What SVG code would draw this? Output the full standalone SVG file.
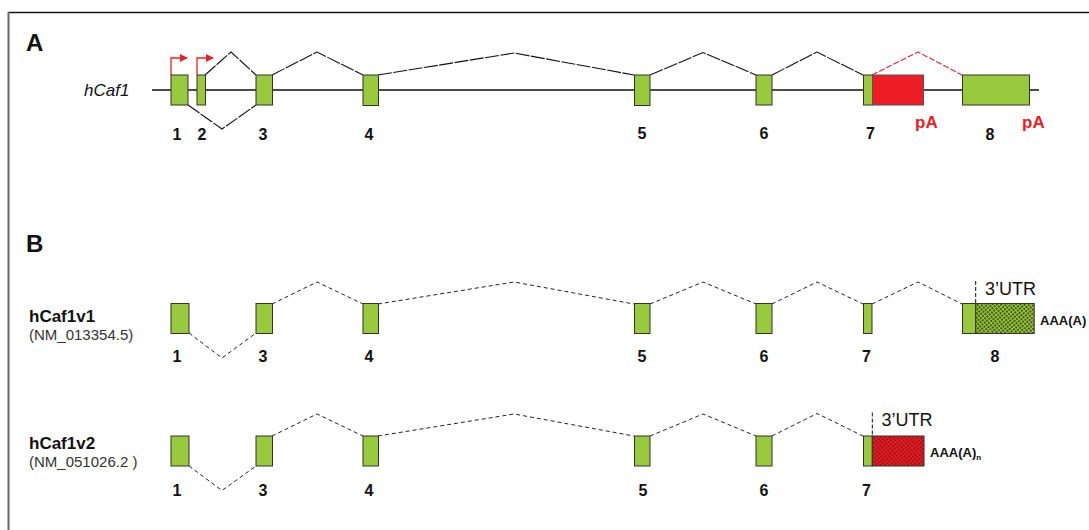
<svg xmlns="http://www.w3.org/2000/svg" width="1089" height="530" viewBox="0 0 1089 530">
<defs>
<style>
.ex{fill:#99c93c;stroke:#333;stroke-width:1}
.red{fill:#ee1c24;stroke:#555;stroke-width:1}
.num{font-family:"Liberation Sans",Arial,sans-serif;font-size:16px;font-weight:bold;fill:#111;text-anchor:middle}
.pa{font-family:"Liberation Sans",Arial,sans-serif;font-size:17px;font-weight:bold;fill:#ee1c24}
.lbl{font-family:"Liberation Sans",Arial,sans-serif;font-size:24px;font-weight:bold;fill:#111}
.name{font-family:"Liberation Sans",Arial,sans-serif;font-size:17px;font-weight:bold;fill:#111}
.acc{font-family:"Liberation Sans",Arial,sans-serif;font-size:15px;fill:#333}
.utr{font-family:"Liberation Sans",Arial,sans-serif;font-size:18px;fill:#111}
.aaa{font-family:"Liberation Sans",Arial,sans-serif;font-size:13px;font-weight:bold;fill:#111}
.spA{fill:none;stroke:#111;stroke-width:1.1;stroke-dasharray:14 1.5}
.spR{fill:none;stroke:#ee1c24;stroke-width:1.1;stroke-dasharray:6 2}
.spB{fill:none;stroke:#222;stroke-width:1;stroke-dasharray:4 3}
.arr{fill:none;stroke:#ee1c24;stroke-width:1.3}
</style>
<pattern id="hatchG" width="3" height="3" patternUnits="userSpaceOnUse" patternTransform="rotate(-40)">
<rect width="3" height="3" fill="#99c93c"/>
<line x1="0" y1="1" x2="3" y2="1" stroke="#26320c" stroke-width="1.3" stroke-dasharray="2 1"/>
</pattern>
<pattern id="hatchR" width="3" height="3" patternUnits="userSpaceOnUse" patternTransform="rotate(-40)">
<rect width="3" height="3" fill="#ee1c24"/>
<line x1="0" y1="1" x2="3" y2="1" stroke="#4a0808" stroke-width="1.1" stroke-dasharray="2 1"/>
</pattern>
<marker id="ah" viewBox="0 0 10 10" refX="9" refY="5" markerWidth="8" markerHeight="8" markerUnits="userSpaceOnUse" orient="auto">
<path d="M0,0 L10,5 L0,10 z" fill="#ee1c24"/>
</marker>
</defs>
<rect width="1089" height="530" fill="#fff"/>
<g id="frame">
<line x1="8" y1="12.5" x2="1089" y2="12.5" stroke="#111" stroke-width="1.5"/>
<line x1="8.5" y1="12" x2="8.5" y2="530" stroke="#666" stroke-width="2"/>
</g>
<g id="panelA">
<text class="lbl" x="26" y="51">A</text>
<text x="84" y="96" font-family="'Liberation Sans',Arial,sans-serif" font-size="17" font-style="italic" fill="#111">hCaf1</text>
<line x1="152" y1="90" x2="1039" y2="90" stroke="#111" stroke-width="1.3"/>
<g id="connectorsA">
<polyline class="spA" points="205,75 231,52 256,75"/>
<polyline class="spA" points="272,75 317,52 363,75"/>
<polyline class="spA" points="378,75 514,53 634,75"/>
<polyline class="spA" points="650,75 703,52.5 756,75"/>
<polyline class="spA" points="772,75 817,52 863,75"/>
<polyline class="spR" points="872,75 918,52 962,75"/>
<polyline class="spA" points="188,105 222,129 256,105"/>
<polyline class="arr" points="171,75 171,58 187,58" marker-end="url(#ah)"/>
<polyline class="arr" points="197,75 197,58 213,58" marker-end="url(#ah)"/>
</g>
<g id="A-e1"><rect class="ex" x="171" y="75" width="17" height="30"/><text class="num" x="177" y="140">1</text></g>
<g id="A-e2"><rect class="ex" x="197" y="75" width="8.5" height="30"/><text class="num" x="202" y="140">2</text></g>
<g id="A-e3"><rect class="ex" x="256" y="75" width="16.5" height="30"/><text class="num" x="263" y="140">3</text></g>
<g id="A-e4"><rect class="ex" x="363" y="75" width="15.5" height="30.5"/><text class="num" x="369" y="140">4</text></g>
<g id="A-e5"><rect class="ex" x="634.5" y="75" width="15.5" height="30.5"/><text class="num" x="642" y="139">5</text></g>
<g id="A-e6"><rect class="ex" x="756" y="75" width="16" height="30"/><text class="num" x="764" y="139">6</text></g>
<g id="A-e7"><rect class="ex" x="863.5" y="75" width="9" height="30"/><rect class="red" x="872.5" y="75" width="51" height="30"/><text class="num" x="870.5" y="139">7</text><text class="pa" x="915" y="128">pA</text></g>
<g id="A-e8"><rect class="ex" x="962.5" y="75" width="67" height="30"/><text class="num" x="990" y="140">8</text><text class="pa" x="1022" y="128">pA</text></g>
</g>
<g id="panelB">
<text class="lbl" x="26" y="252">B</text>
<g id="v1-label"><text class="name" x="29" y="322">hCaf1v1</text><text class="acc" x="29" y="340">(NM_013354.5)</text></g>
<g id="connectorsB1">
<polyline class="spB" points="189,333 222,358 256,333"/>
<polyline class="spB" points="272,304 317,282 363,304"/>
<polyline class="spB" points="378,304 514,282 634,304"/>
<polyline class="spB" points="650,304 703,282 756,304"/>
<polyline class="spB" points="772,304 817,282 863,304"/>
<polyline class="spB" points="872,304 918,282 962,304"/>
<line x1="975.7" y1="281" x2="975.7" y2="303.5" stroke="#111" stroke-width="1" stroke-dasharray="4 2"/>
</g>
<g id="v1-e1"><rect class="ex" x="171" y="303.5" width="18" height="30"/><text class="num" x="177" y="362">1</text></g>
<g id="v1-e3"><rect class="ex" x="256" y="303.5" width="16.5" height="30"/><text class="num" x="263" y="362">3</text></g>
<g id="v1-e4"><rect class="ex" x="363" y="303.5" width="15.5" height="30"/><text class="num" x="369" y="362">4</text></g>
<g id="v1-e5"><rect class="ex" x="634.5" y="303.5" width="15.5" height="30"/><text class="num" x="642" y="362">5</text></g>
<g id="v1-e6"><rect class="ex" x="756" y="303.5" width="16" height="30"/><text class="num" x="764" y="362">6</text></g>
<g id="v1-e7"><rect class="ex" x="863.5" y="303.5" width="8.5" height="30"/><text class="num" x="866.5" y="362">7</text></g>
<g id="v1-e8"><rect class="ex" x="962.5" y="303.5" width="13.2" height="30"/><rect x="975.7" y="303.5" width="58.5" height="30" fill="url(#hatchG)" stroke="#333" stroke-width="1"/><text class="num" x="995" y="362">8</text><text class="utr" x="985" y="295">3’UTR</text><text class="aaa" x="1040" y="325">AAA(A)</text></g>
<g id="v2-label"><text class="name" x="29" y="449">hCaf1v2</text><text class="acc" x="29" y="467">(NM_051026.2 )</text></g>
<g id="connectorsB2">
<polyline class="spB" points="189,466 222,490.5 256,466"/>
<polyline class="spB" points="272,436 317,414 363,436"/>
<polyline class="spB" points="378,436 514,414 634,436"/>
<polyline class="spB" points="650,436 703,414 756,436"/>
<polyline class="spB" points="772,436 817,413.5 863,436"/>
<line x1="872.3" y1="412.5" x2="872.3" y2="436" stroke="#111" stroke-width="1" stroke-dasharray="4 2"/>
</g>
<g id="v2-e1"><rect class="ex" x="171" y="436" width="18" height="30"/><text class="num" x="177" y="496">1</text></g>
<g id="v2-e3"><rect class="ex" x="256" y="436" width="16.5" height="30"/><text class="num" x="263" y="496">3</text></g>
<g id="v2-e4"><rect class="ex" x="363" y="436" width="15.5" height="30"/><text class="num" x="369" y="496">4</text></g>
<g id="v2-e5"><rect class="ex" x="634.5" y="436" width="15.5" height="30"/><text class="num" x="643" y="496">5</text></g>
<g id="v2-e6"><rect class="ex" x="756" y="436" width="16" height="30"/><text class="num" x="764" y="496">6</text></g>
<g id="v2-e7"><rect class="ex" x="863.5" y="436" width="8.8" height="30"/><rect x="872.3" y="436" width="51.7" height="30" fill="url(#hatchR)" stroke="#333" stroke-width="1"/><text class="num" x="866.5" y="496">7</text><text class="utr" x="881.5" y="426">3’UTR</text><text class="aaa" x="930" y="457" font-size="12.5">AAA(A)<tspan font-size="8" dy="3">n</tspan></text></g>
</g>
</svg>
